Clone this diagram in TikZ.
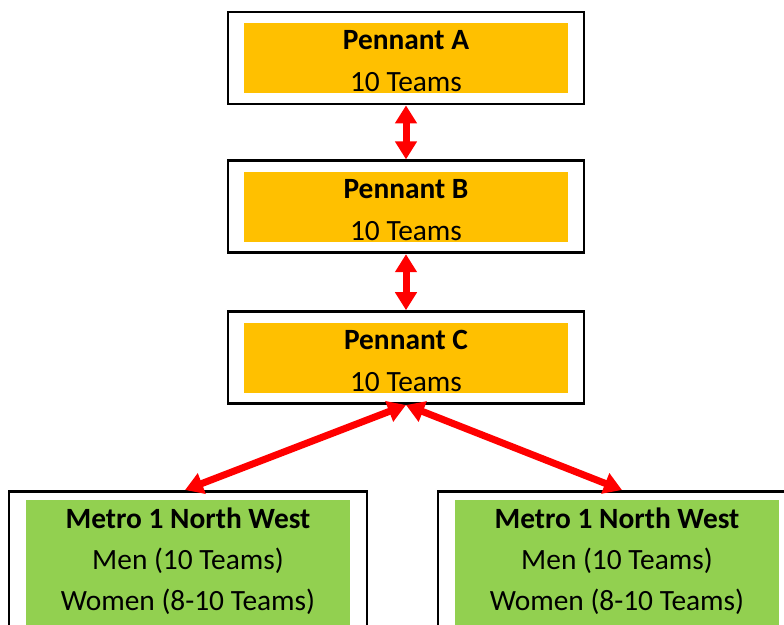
\documentclass[tikz,border=0pt]{standalone}
\usepackage{fontspec}
\setmainfont{Carlito}
\usetikzlibrary{positioning,arrows.meta}
\definecolor{pennantorange}{HTML}{FFC000}
\definecolor{metrogreen}{HTML}{92D050}
\tikzset{
  frame/.style={draw,line width=1.4pt,minimum width=178pt,minimum height=46pt,inner sep=0pt},
  grade/.style={fill=pennantorange,minimum width=162pt,minimum height=35pt,inner ysep=0pt,
    align=center,text height=34pt,text depth=0pt,font=\fontsize{14.7}{21}\selectfont},
  metrobox/.style={fill=metrogreen,minimum width=162pt,inner ysep=0pt,
    align=center,text height=54.85pt,text depth=20pt,font=\fontsize{14.7}{20.5}\selectfont},
  link/.style={red,line width=3.5pt,{Triangle[width=10.5pt,length=9pt]}-{Triangle[width=10.5pt,length=9pt]}}
}
\begin{document}
\begin{tikzpicture}[x=0.5pt,y=-0.5pt,node distance=27pt]
  \useasboundingbox (0,0) rectangle (784,625);
  \clip (0,0) rectangle (784,625);
  \node(A)[frame] at (406,58){};
  \node(B)[frame,below=of A]{};
  \node(C)[frame,below=28pt of B]{};
  \node(Agrade)[grade] at (A){\textbf{Pennant A}\\10 Teams};
  \node(Bgrade)[grade] at (B){\textbf{Pennant B}\\10 Teams};
  \node(Cgrade)[grade] at (C){\textbf{Pennant C}\\10 Teams};
  \node(L)[frame,anchor=north,minimum width=179pt,minimum height=80pt] at (188,490){};
  \node(R)[frame,anchor=north,minimum width=179pt,minimum height=80pt] at (617,490){};
  \node(Lmetro)[metrobox,below=5pt of L.north]{\textbf{Metro 1 North West}\\Men (10 Teams)\\Women (8-10 Teams)};
  \node(Rmetro)[metrobox,below=5pt of R.north]{\textbf{Metro 1 North West}\\Men (10 Teams)\\Women (8-10 Teams)};
  \path[link] (A) edge (B);
  \path[link] (B) edge (C);
  \path[link] (C.south) edge ([xshift=-1.5pt]L.north);
  \path[link] (C.south) edge ([xshift=2.5pt]R.north);
\end{tikzpicture}
\end{document}
